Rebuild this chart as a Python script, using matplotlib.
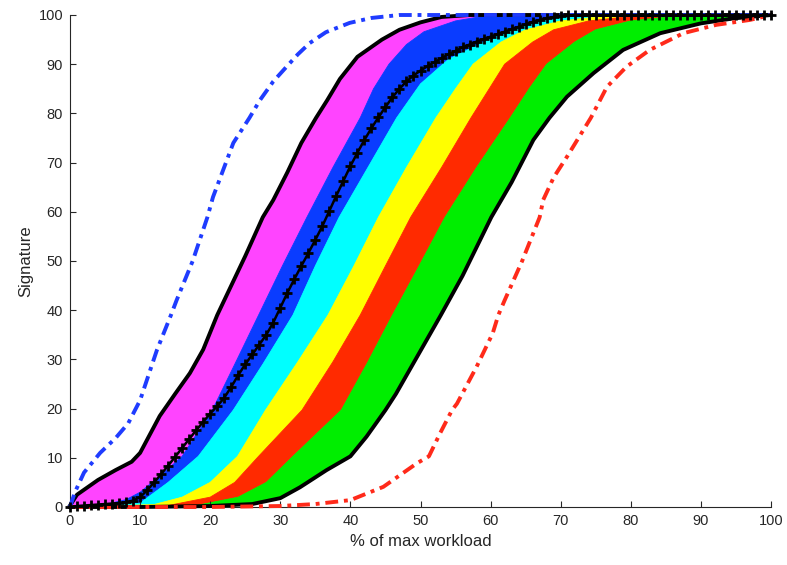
import matplotlib
matplotlib.use("Agg")
import matplotlib.pyplot as plt
import numpy as np

# ---- boundary curves (x = % of max workload, y = Signature)
left_x  = [0, 1, 4, 6.5, 8.8, 10, 12.8, 15, 17.1, 19, 21, 23, 25, 27.5, 29, 31, 33, 35.1, 36.7, 38.5, 41, 44.5, 47, 50, 53, 57, 100]
left_y  = [0.3, 2.5, 5.5, 7.5, 9.2, 11, 18.5, 23, 27.2, 32, 39, 45, 51, 58.9, 62.4, 68, 74, 79.1, 82.7, 87, 91.5, 95, 97, 98.5, 99.6, 100, 100]

mb_x = [0, 5, 8, 10, 13, 16, 20.3, 23.5, 26.9, 30.3, 33.8, 37.5, 41.4, 43.3, 45.5, 48, 50.5, 55, 60]
mb_y = [0, 0.5, 1.5, 3, 6.5, 10.3, 19.7, 29, 39, 49, 58.9, 69, 79.1, 85, 90, 94, 96.6, 98.8, 100]

bc_x = [0, 10, 14, 18.3, 23.3, 27.5, 31.8, 35, 38.4, 42.5, 46.6, 50, 54, 59, 64, 68, 72]
bc_y = [0, 0.8, 5, 10.3, 19.7, 29, 39, 49, 58.9, 69, 79.1, 86, 91, 94.5, 97.5, 99.4, 100]

cy_x = [0, 12, 16, 20, 23.9, 27.9, 32.5, 36.8, 40.5, 44, 48, 52.2, 55, 57.5, 61.5, 65, 70, 78]
cy_y = [0, 0.5, 2, 5, 10.3, 19.7, 29.5, 39, 49, 58.9, 69, 79.1, 85, 90, 94.5, 97, 98.8, 100]

yr_x = [0, 14, 20, 23.5, 26.9, 33.1, 37.5, 41.4, 45, 48.6, 53, 57.2, 59.8, 62, 66, 69, 74, 82]
yr_y = [0, 0.3, 2, 5, 10.3, 19.7, 29.5, 39, 49, 58.9, 69, 79.1, 85, 90, 94.5, 97, 98.8, 100]

rg_x = [0, 18, 24, 28, 31.8, 38.7, 42.5, 46, 49.8, 53.5, 58, 62.8, 65.5, 68, 72, 75, 80, 88]
rg_y = [0, 0.3, 2, 5, 10.3, 19.7, 29.5, 39, 49, 58.9, 69, 79.1, 85, 90, 94.5, 97, 98.8, 100]

right_x = [0, 10, 20, 26, 30, 32.8, 36.6, 40, 42.3, 45, 46.5, 49.5, 52.9, 56, 60.1, 63, 66.1, 68.4, 70.9, 74.7, 78.9, 84.2, 90, 94.6, 100]
right_y = [0, 0, 0.2, 0.6, 1.8, 4, 7.5, 10.3, 14.3, 19.7, 23, 30.5, 39, 47, 58.9, 66, 74.6, 79.1, 83.4, 88.2, 92.9, 96.3, 98.3, 99.3, 100]

bdash_x = [0, 0.7, 2, 4.3, 6.5, 8.3, 10, 12.4, 14.4, 15.2, 17.5, 19.6, 20.4, 23.3, 25.6, 27.1, 29, 30.9, 32.5, 34.2, 36.5, 39.9, 43, 47, 100]
bdash_y = [0, 3, 7, 11, 14, 17, 21.7, 31.9, 39, 42, 50, 58.9, 63, 74, 79.1, 82.7, 86.5, 89.5, 92, 94.3, 96.5, 98.4, 99.4, 100, 100]

rdash_x = [0, 10, 20, 30, 35, 40, 44.7, 49.5, 51.2, 52.8, 54.5, 55.2, 58, 60.3, 61.1, 62, 64.5, 67, 67.5, 69, 70.9, 74.3, 76.6, 79.4, 82.7, 87.5, 92.2, 97, 100]
rdash_y = [0, 0, 0, 0.2, 0.6, 1.4, 4.1, 8.9, 10.3, 15, 19.7, 21, 28.5, 35.3, 39, 42, 50, 58.9, 62.4, 67, 71.2, 79.1, 85.4, 89.5, 92.9, 96.3, 98, 99, 100]

med_x = list(range(0, 101))
med_y = [0, 0.2, 0.3, 0.4, 0.5, 0.6, 0.7, 0.8, 1.0, 1.3,
         2.0, 3.4, 5.0, 6.7, 8.4, 10.2, 12.0, 13.8, 15.6, 17.3,
         19.0, 20.5, 22.2, 24.4, 26.8, 29.0, 31.0, 33.0, 35.0, 37.5,
         40.5, 43.5, 46.3, 49.0, 51.6, 54.3, 57.1, 60.2, 63.3, 66.3,
         69.3, 72.0, 74.6, 77.0, 79.2, 81.3, 83.3, 85.0, 86.5, 87.7,
         88.7, 89.6, 90.4, 91.2, 92.0, 92.7, 93.4, 94.0, 94.6, 95.1,
         95.6, 96.1, 96.6, 97.1, 97.6, 98.1, 98.6, 99.0, 99.3, 99.6,
         99.8, 99.9, 100, 100, 100, 100, 100, 100, 100, 100,
         100, 100, 100, 100, 100, 100, 100, 100, 100, 100,
         100, 100, 100, 100, 100, 100, 100, 100, 100, 100, 100]

x_ticks = [0, 10, 20, 30, 40, 50, 60, 70, 80, 90, 100]
y_ticks = [0, 10, 20, 30, 40, 50, 60, 70, 80, 90, 100]

plt.rcParams['font.family'] = ['Liberation Sans', 'DejaVu Sans']

fig = plt.figure(figsize=(7.87, 5.65), dpi=100)
ax = fig.add_axes([70/787, 1-507/565, (771-70)/787, (507-15)/565])

bands = [
    (left_x, left_y, mb_x, mb_y, '#FF44FF'),
    (mb_x, mb_y, bc_x, bc_y, '#0A3CFF'),
    (bc_x, bc_y, cy_x, cy_y, '#00FFFF'),
    (cy_x, cy_y, yr_x, yr_y, '#FFFF00'),
    (yr_x, yr_y, rg_x, rg_y, '#FF2A00'),
    (rg_x, rg_y, right_x, right_y, '#00EE00'),
]
for ax_, ay_, bx_, by_, col in bands:
    px = list(ax_) + list(bx_)[::-1]
    py = list(ay_) + list(by_)[::-1]
    ax.fill(px, py, color=col, lw=0.6, ec=col, joinstyle='round', zorder=1)

ax.plot(left_x, left_y, color='black', lw=2.8, zorder=3, clip_on=False, solid_joinstyle='round')
ax.plot(right_x, right_y, color='black', lw=2.8, zorder=3, clip_on=False, solid_joinstyle='round')
ax.plot(bdash_x, bdash_y, color='#1F3CFF', lw=2.8, ls=(0, (3.3, 1.5, 1.0, 1.5)), zorder=4, clip_on=False)
ax.plot(rdash_x, rdash_y, color='#FF2A1A', lw=2.8, ls=(0, (3.3, 1.5, 1.0, 1.5)), zorder=4, clip_on=False)
ax.plot(med_x, med_y, color='black', lw=1.8, marker='+', ms=6.5, mew=2, zorder=5, clip_on=False)

ax.set_xlim(0, 100)
ax.set_ylim(0, 100)
ax.set_xticks(x_ticks)
ax.set_yticks(y_ticks)
ax.spines['top'].set_visible(False)
ax.spines['right'].set_visible(False)
for s in ('left', 'bottom'):
    ax.spines[s].set_color('#262626')
    ax.spines[s].set_linewidth(0.8)
ax.tick_params(direction='in', length=4, width=0.8, colors='#262626', labelsize=10.5, pad=5)
ax.set_xlabel('% of max workload', fontsize=12, color='#262626', labelpad=4)
ax.set_ylabel('Signature', fontsize=12, color='#262626', labelpad=4)

fig.savefig('out.png', dpi=100)
